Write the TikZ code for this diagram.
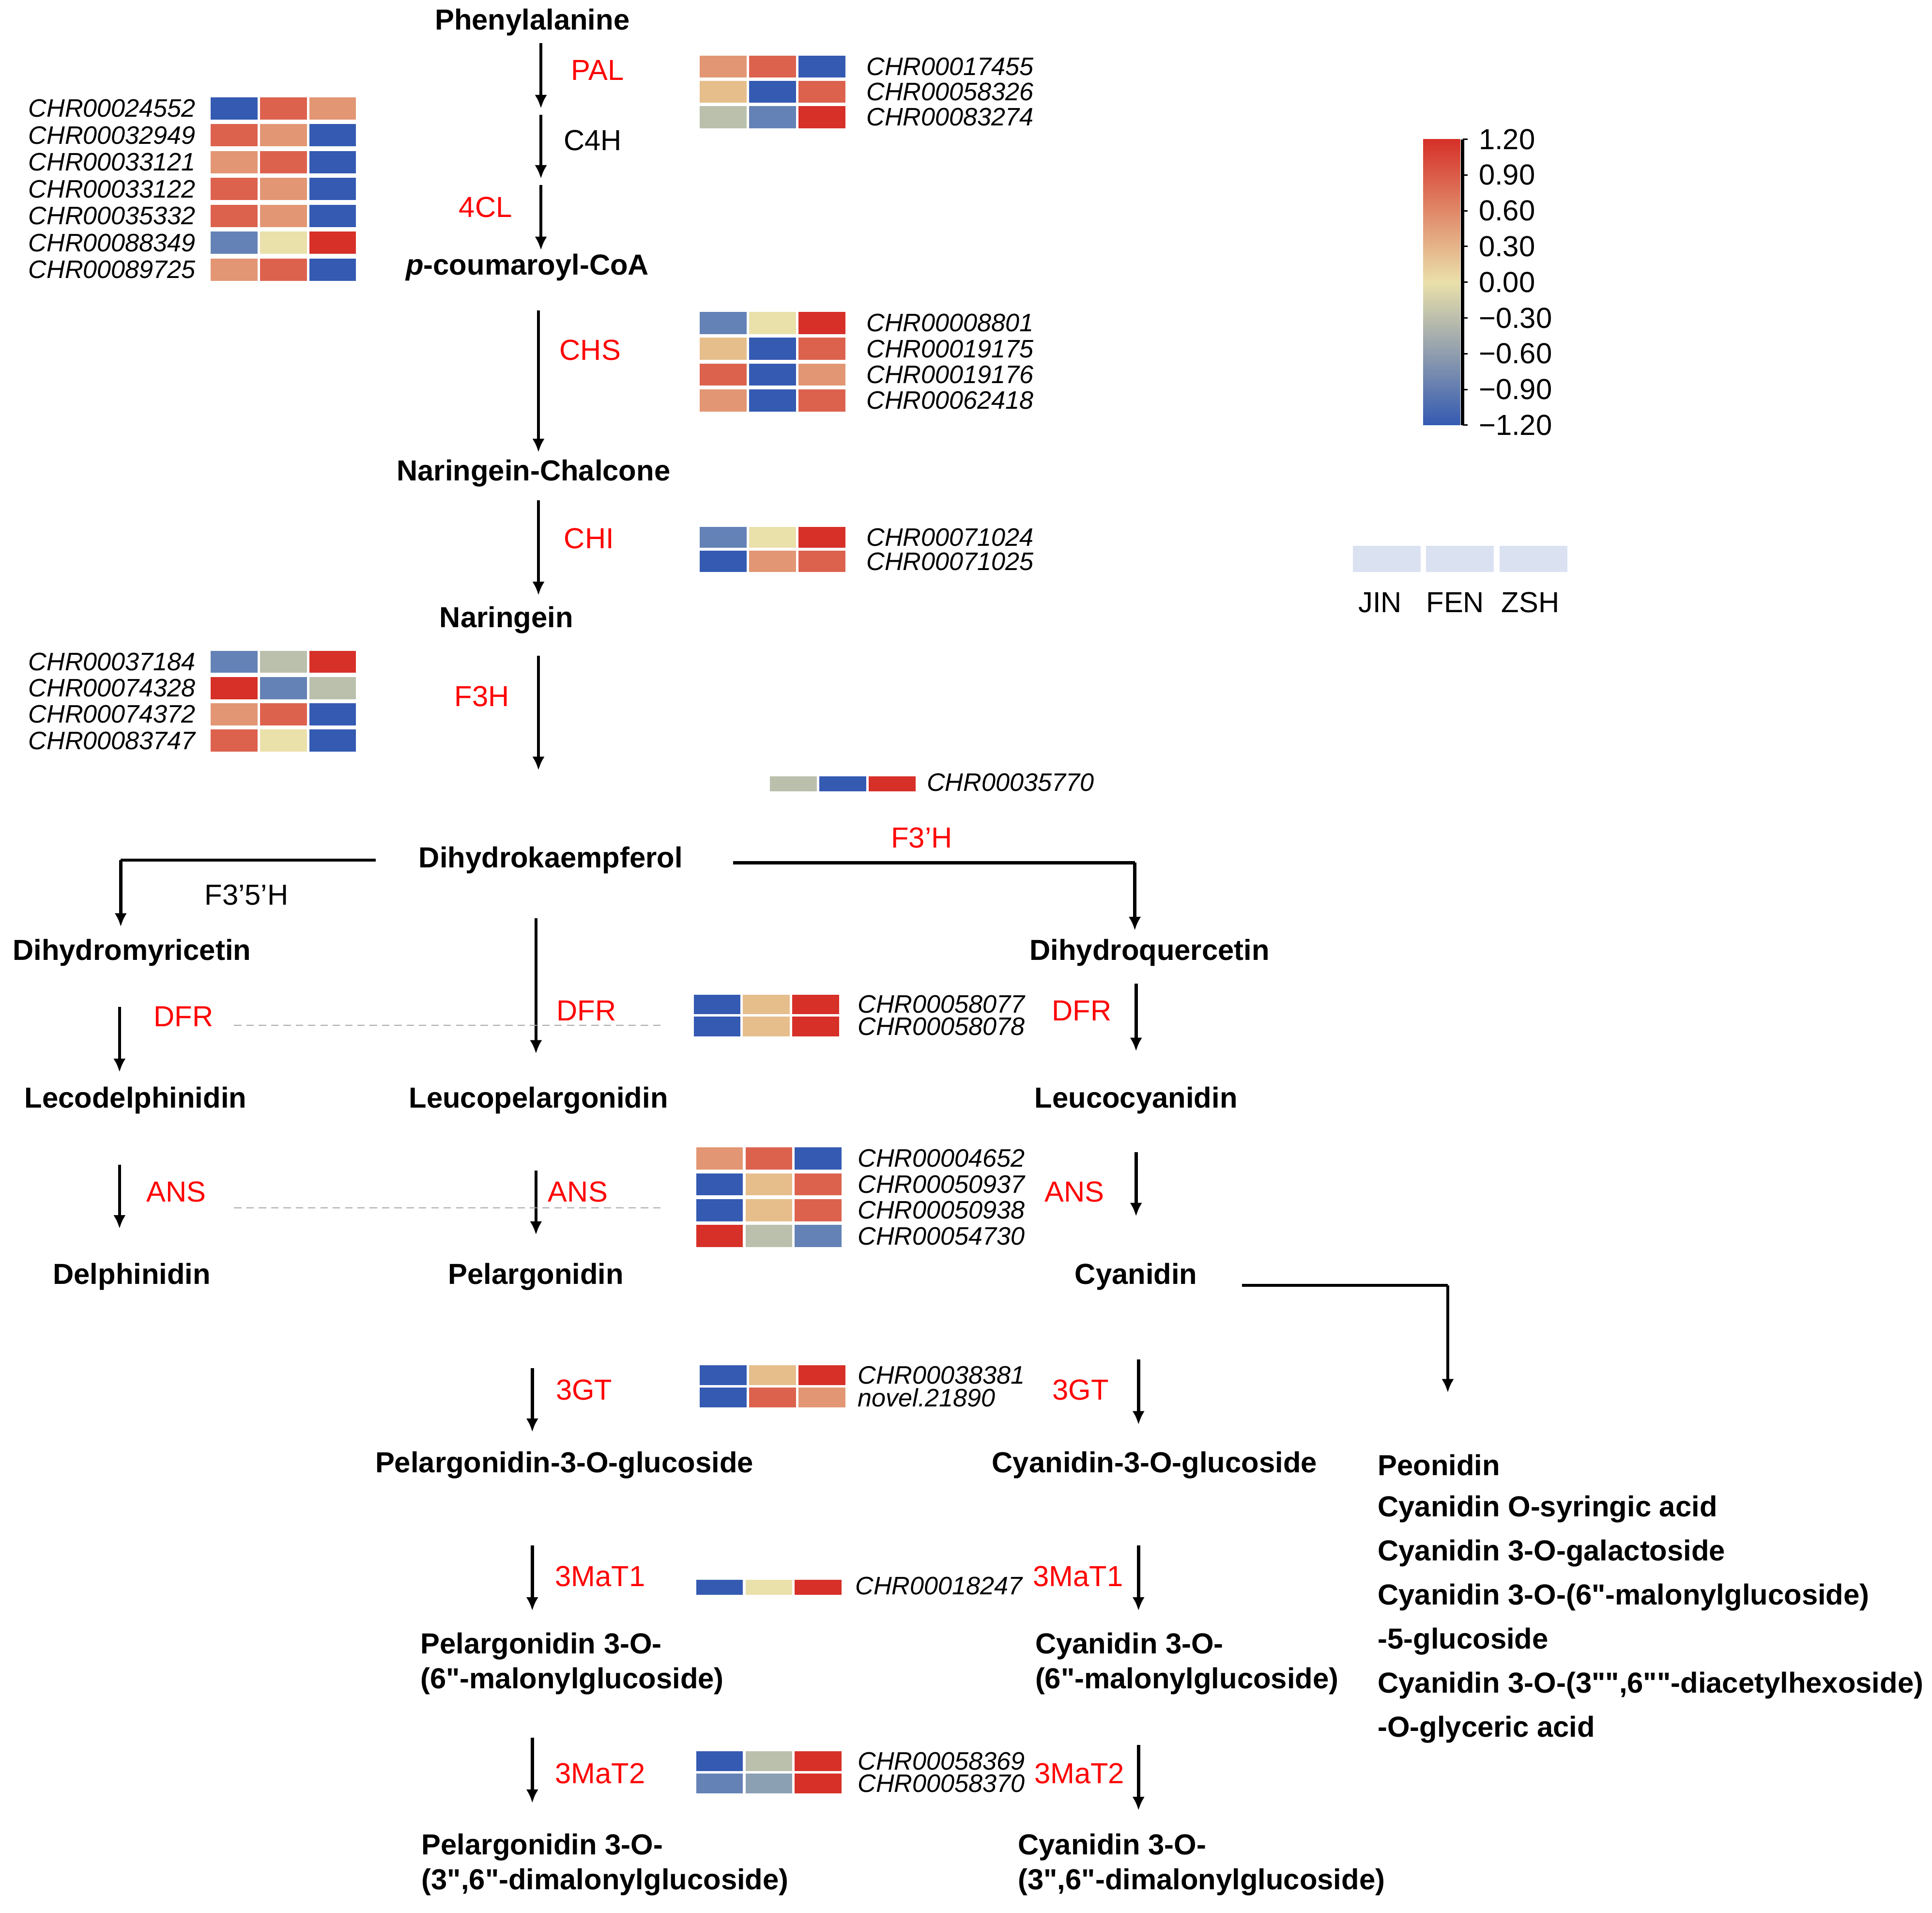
\documentclass[tikz,border=0pt]{standalone}
\usepackage{fontspec}
\setmainfont{Liberation Sans}
\usetikzlibrary{arrows.meta}
\definecolor{hB}{RGB}{52,90,178}
\definecolor{hS}{RGB}{100,130,182}
\definecolor{hG}{RGB}{186,192,172}
\definecolor{hQ}{RGB}{140,160,180}
\definecolor{hY}{RGB}{234,224,170}
\definecolor{hP}{RGB}{230,190,140}
\definecolor{hO}{RGB}{226,150,115}
\definecolor{hR}{RGB}{220,98,78}
\definecolor{hD}{RGB}{214,48,40}
\definecolor{hL}{RGB}{218,226,242}
\newcommand\dq{\XeTeXglyph\XeTeXcharglyph"22\relax}
\begin{document}
\begin{tikzpicture}[x=1pt,y=-1pt,
  cpd/.style={font=\fontsize{23.5}{28.5}\selectfont\bfseries, inner sep=0pt},
  cpdl/.style={cpd, align=left, anchor=west},
  enz/.style={font=\fontsize{23.5}{26}\selectfont, text=red, inner sep=0pt},
  gene/.style={font=\fontsize{20.5}{22}\selectfont\itshape, inner sep=0pt},
  arw/.style={-{Latex[length=11pt,width=10pt]}, line width=2.6pt},
  link/.style={line width=2.6pt},
  guide/.style={dash pattern=on 6pt off 4pt, gray!70, line width=0.9pt}]
\useasboundingbox (0,0) rectangle (1568,1552);
% heatmap row: x, y centre, height, three colours
\def\hm#1#2#3#4#5#6{\foreach \hc[count=\k from 0] in {#4,#5,#6}
  \fill[\hc] (#1+40*\k,#2-#3/2) rectangle ++(38,#3);}
\def\arr#1#2#3#4{\coordinate (#1a) at (#2,#3); \coordinate (#1b) at (#2,#4);
  \draw[arw] (#1a) -- (#1b);}

% compounds
\node[cpd] (phe) at (432,18) {Phenylalanine};
\node[cpd] (cou) at (428,217) {\textit{p}-coumaroyl-CoA};
\node[cpd] (chal) at (433,384) {Naringein-Chalcone};
\node[cpd] (nar) at (411,503) {Naringein};
\node[cpd] (dhk) at (447,698) {Dihydrokaempferol};
\node[cpd] (dhm) at (107,773) {Dihydromyricetin};
\node[cpd] (dhq) at (933,773) {Dihydroquercetin};
\node[cpd] (lde) at (110,893) {Lecodelphinidin};
\node[cpd] (lpe) at (437,893) {Leucopelargonidin};
\node[cpd] (lcy) at (922,893) {Leucocyanidin};
\node[cpd] (del) at (107,1036) {Delphinidin};
\node[cpd] (pel) at (435,1036) {Pelargonidin};
\node[cpd] (cya) at (922,1036) {Cyanidin};
\node[cpd] (pglc) at (458,1189) {Pelargonidin-3-O-glucoside};
\node[cpd] (cglc) at (937,1189) {Cyanidin-3-O-glucoside};
\node[cpdl] (pmal) at (341,1350) {Pelargonidin 3-O-\\(6\dq-malonylglucoside)};
\node[cpdl] (cmal) at (840,1350) {Cyanidin 3-O-\\(6\dq-malonylglucoside)};
\node[cpdl] (pdim) at (342,1513) {Pelargonidin 3-O-\\(3\dq,6\dq-dimalonylglucoside)};
\node[cpdl] (cdim) at (826,1513) {Cyanidin 3-O-\\(3\dq,6\dq-dimalonylglucoside)};
\foreach \t[count=\i from 0] in {Peonidin, Cyanidin O-syringic acid,
  Cyanidin 3-O-galactoside, Cyanidin 3-O-(6\dq-malonylglucoside),
  -5-glucoside, {Cyanidin 3-O-(3\dq\dq,6\dq\dq-diacetylhexoside)}, -O-glyceric acid}
  \node[cpdl] (peo\i) at (1118,1189+35.7*\i) {\t};

% enzymes
\node[enz] (pal) at (485,57) {PAL};
\node[enz, text=black] (c4h) at (481,114) {C4H};
\node[enz] (cl4) at (394,168) {4CL};
\node[enz] (chs) at (479,284) {CHS};
\node[enz] (chi) at (478,437) {CHI};
\node[enz] (f3h) at (391,565) {F3H};
\node[enz, text=black] (f35h) at (200,726) {F3'5'H};
\node[enz] (f3ph) at (748,680) {F3'H};
\node[enz] (dfr1) at (149,825) {DFR};
\node[enz] (dfr2) at (476,820) {DFR};
\node[enz] (dfr3) at (878,820) {DFR};
\node[enz] (ans1) at (143,967) {ANS};
\node[enz] (ans2) at (469,967) {ANS};
\node[enz] (ans3) at (872,967) {ANS};
\node[enz] (gt1) at (474,1128) {3GT};
\node[enz] (gt2) at (877,1128) {3GT};
\node[enz] (ma1) at (487,1279) {3MaT1};
\node[enz] (ma2) at (875,1279) {3MaT1};
\node[enz] (mb1) at (487,1439) {3MaT2};
\node[enz] (mb2) at (876,1439) {3MaT2};

% arrows
\arr{s1}{439}{35}{88} \arr{s2}{439}{93}{145} \arr{s3}{439}{150}{203}
\arr{s4}{437}{252}{367} \arr{s5}{437}{406}{483} \arr{s6}{437}{532}{625}
\arr{d1}{97}{817}{870} \arr{d2}{435}{745}{855} \arr{d3}{922}{798}{853}
\arr{a1}{97}{945}{997} \arr{a2}{435}{950}{1002} \arr{a3}{922}{935}{987}
\arr{g1}{432}{1110}{1162} \arr{g2}{924}{1103}{1156}
\arr{m1}{432}{1254}{1307} \arr{m2}{924}{1254}{1307}
\arr{n1}{432}{1410}{1463} \arr{n2}{924}{1416}{1469}
\coordinate (bl) at (305,698); \coordinate (bl2) at (98,698); \coordinate (bl3) at (98,752);
\draw[link] (bl) -- (bl2); \draw[arw] (bl2) -- (bl3);
\coordinate (br) at (595,700); \coordinate (br2) at (921,700); \coordinate (br3) at (921,755);
\draw[link] (br) -- (br2); \draw[arw] (br2) -- (br3);
\coordinate (bc) at (1008,1043); \coordinate (bc2) at (1175,1043); \coordinate (bc3) at (1175,1130);
\draw[link] (bc) -- (bc2); \draw[arw] (bc2) -- (bc3);
\coordinate (ga) at (190,832); \coordinate (gb) at (540,832);
\coordinate (gc) at (190,980); \coordinate (gd) at (540,980);
\draw[guide] (ga) -- (gb); \draw[guide] (gc) -- (gd);

% heatmaps
\foreach \g/\a/\b/\c[count=\i from 0] in {24552/hB/hR/hO, 32949/hR/hO/hB,
  33121/hO/hR/hB, 33122/hR/hO/hB, 35332/hR/hO/hB, 88349/hS/hY/hD, 89725/hO/hR/hB} {
  \hm{171}{88+21.8*\i}{18}{\a}{\b}{\c}
  \node[gene, anchor=east] (l\g) at (159,88+21.8*\i) {CHR000\g};
}
\foreach \g/\a/\b/\c[count=\i from 0] in {37184/hS/hG/hD, 74328/hD/hS/hG,
  74372/hO/hR/hB, 83747/hR/hY/hB} {
  \hm{171}{537+21.3*\i}{18}{\a}{\b}{\c}
  \node[gene, anchor=east] (l\g) at (159,537+21.3*\i) {CHR000\g};
}
\foreach \g/\a/\b/\c[count=\i from 0] in {17455/hO/hR/hB, 58326/hP/hB/hR, 83274/hG/hS/hD}
  {\hm{568}{54+20.5*\i}{18}{\a}{\b}{\c}
  \node[gene, anchor=west] (r\g) at (703,54+20.5*\i) {CHR000\g};}
\foreach \g/\a/\b/\c[count=\i from 0] in {08801/hS/hY/hD, 19175/hP/hB/hR,
  19176/hR/hB/hO, 62418/hO/hB/hR}
  {\hm{568}{262+21*\i}{18}{\a}{\b}{\c}
  \node[gene, anchor=west] (r\g) at (703,262+21*\i) {CHR000\g};}
\foreach \g/\a/\b/\c[count=\i from 0] in {71024/hS/hY/hD, 71025/hB/hO/hR}
  {\hm{568}{436+19.5*\i}{17}{\a}{\b}{\c}
  \node[gene, anchor=west] (r\g) at (703,436+19.5*\i) {CHR000\g};}
\hm{625}{636}{12}{hG}{hB}{hD}
\node[gene, anchor=west] (r35770) at (752,635) {CHR00035770};
\foreach \g/\a/\b/\c[count=\i from 0] in {58077/hB/hP/hD, 58078/hB/hP/hD}
  {\hm{563}{815+18*\i}{16}{\a}{\b}{\c}
  \node[gene, anchor=west] (r\g) at (696,815+18*\i) {CHR000\g};}
\foreach \g/\a/\b/\c[count=\i from 0] in {04652/hO/hR/hB, 50937/hB/hP/hR,
  50938/hB/hP/hR, 54730/hD/hG/hS}
  {\hm{565}{940+21*\i}{18}{\a}{\b}{\c}
  \node[gene, anchor=west] (r\g) at (696,940+21*\i) {CHR000\g};}
\hm{568}{1116}{16}{hB}{hP}{hD}
\hm{568}{1134}{16}{hB}{hR}{hO}
\node[gene, anchor=west] (r38381) at (696,1116) {CHR00038381};
\node[gene, anchor=west] (rnov) at (696,1134) {novel.21890};
\hm{565}{1288}{12}{hB}{hY}{hD}
\node[gene, anchor=west] (r18247) at (694,1287) {CHR00018247};
\hm{565}{1429}{16}{hB}{hG}{hD}
\hm{565}{1447}{16}{hS}{hQ}{hD}
\node[gene, anchor=west] (r58369) at (696,1429) {CHR00058369};
\node[gene, anchor=west] (r58370) at (696,1447) {CHR00058370};

% colour scale
\shade[top color=hD, bottom color=hY] (1155,113) rectangle (1185,229);
\shade[top color=hY, bottom color=hB] (1155,229) rectangle (1185,345);
\coordinate (axt) at (1187,113); \coordinate (axb) at (1187,345);
\draw[line width=2.5pt] (axt) -- (axb);
\foreach \v[count=\i from 0] in {1.20,0.90,0.60,0.30,0.00,−0.30,−0.60,−0.90,−1.20} {
  \draw[line width=1.2pt] (1187,113+29*\i) -- ++(4,0);
  \node[anchor=west, font=\fontsize{23.5}{25}\selectfont, inner sep=0pt] (v\i) at (1200,113+29*\i) {\v};
}
\foreach \s[count=\i from 0] in {JIN,FEN,ZSH} {
  \fill[hL] (1098+59.5*\i,443) rectangle ++(55,21);
  \node[font=\fontsize{23.5}{25}\selectfont, inner sep=0pt] (s\s) at (1120+61*\i,489) {\s};
}
\end{tikzpicture}
\end{document}
